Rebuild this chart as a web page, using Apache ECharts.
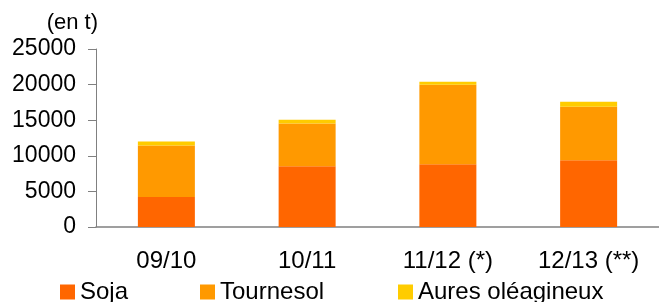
<!DOCTYPE html>
<html>
<head>
<meta charset="utf-8">
<script src="https://cdn.jsdelivr.net/npm/echarts@6/dist/echarts.min.js"></script>
<style>
  html, body { margin: 0; padding: 0; background: #fff; }
  #chart { width: 659px; height: 302px; }
</style>
</head>
<body>
<div id="chart"></div>
<script>
const campagnes = ['09/10', '10/11', '11/12 (*)', '12/13 (**)'];
const soja = [4230, 8520, 8800, 9360];
const tournesol = [7220, 6000, 11170, 7540];
const autres = [560, 560, 420, 700];

const couleurs = ['#FF6600', '#FF9900', '#FFCC00'];
const font = 'Liberation Sans, Arial, sans-serif';

function legende(name, left) {
  return {
    data: [name],
    left: left,
    top: 280,
    icon: 'rect',
    itemWidth: 15,
    itemHeight: 15,
    itemGap: 0,
    padding: 0,
    textStyle: { fontFamily: font, fontSize: 24, color: '#000' },
    selectedMode: false
  };
}

const chart = echarts.init(document.getElementById('chart'));
chart.setOption({
  animation: false,
  color: couleurs,
  grid: { left: 96, right: 0, top: 49, bottom: 75, containLabel: false },
  graphic: [{
    type: 'text',
    right: 561,
    top: 12,
    style: { text: '(en t)', font: '22px ' + font, fill: '#000' }
  }],
  legend: [
    legende('Soja', 60),
    legende('Tournesol', 200),
    legende('Aures oléagineux', 398)
  ],
  xAxis: {
    type: 'category',
    data: campagnes,
    axisLine: { lineStyle: { color: '#808080', width: 1.5 } },
    axisTick: { length: 6, lineStyle: { color: '#333' } },
    axisLabel: { fontFamily: font, fontSize: 24, color: '#000', margin: 22 }
  },
  yAxis: {
    type: 'value',
    min: 0,
    max: 25000,
    interval: 5000,
    splitLine: { show: false },
    axisLine: { show: true, lineStyle: { color: '#808080' } },
    axisTick: { show: true, length: 8, lineStyle: { color: '#808080' } },
    axisLabel: { fontFamily: font, fontSize: 23, color: '#000', margin: 20, formatter: v => String(v) }
  },
  series: [
    { name: 'Soja', type: 'bar', stack: 'total', barWidth: 57, data: soja },
    { name: 'Tournesol', type: 'bar', stack: 'total', barWidth: 57, data: tournesol },
    { name: 'Aures oléagineux', type: 'bar', stack: 'total', barWidth: 57, data: autres }
  ]
});
</script>
</body>
</html>
